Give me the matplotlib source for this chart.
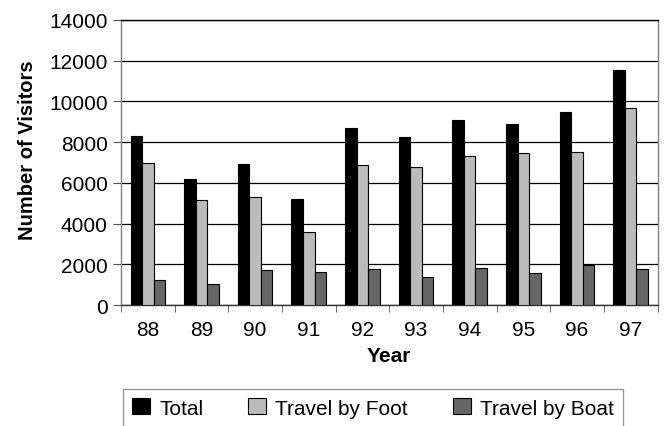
import numpy as np
import matplotlib
matplotlib.use("Agg")
import matplotlib.pyplot as plt
from matplotlib.ticker import FixedLocator

years = ["88", "89", "90", "91", "92", "93", "94", "95", "96", "97"]
total = [8300, 6200, 6950, 5200, 8700, 8250, 9100, 8900, 9500, 11550]
foot = [7000, 5150, 5300, 3600, 6900, 6800, 7300, 7450, 7500, 9700]
boat = [1250, 1050, 1700, 1600, 1770, 1400, 1800, 1550, 1980, 1750]

plt.rcParams["font.family"] = ["Liberation Sans", "DejaVu Sans"]

W, H = 668, 427
fig = plt.figure(figsize=(W / 100, H / 100), dpi=100)
ax = fig.add_axes([121 / W, 1 - 306 / H, 536.5 / W, 285 / H])

x = np.arange(len(years))
bw = 0.215
series = [(total, "#000000", "Total"),
          (foot, "#BBBBBB", "Travel by Foot"),
          (boat, "#666666", "Travel by Boat")]
for i, (vals, col, lab) in enumerate(series):
    ax.bar(x + (i - 1) * bw, vals, bw, color=col, edgecolor="black",
           linewidth=0.8, label=lab, zorder=3)

ax.set_xlim(-0.5, len(years) - 0.5)
ax.set_ylim(0, 14000)
ax.set_yticks(range(0, 14001, 2000))
ax.yaxis.grid(True, color="black", linewidth=0.9, zorder=0)
ax.set_axisbelow(True)

ax.set_xticks(x)
ax.set_xticklabels(years, fontsize=15)
ax.tick_params(axis="x", which="major", length=0, pad=11)
ax.xaxis.set_minor_locator(FixedLocator(np.arange(-0.5, len(years), 1.0)))
ax.tick_params(axis="x", which="minor", length=5, color="#555555", direction="out")
ax.tick_params(axis="y", labelsize=15, length=6, color="#555555", pad=3.5)

for s in ["left", "right"]:
    ax.spines[s].set_color("#808080")
ax.spines["bottom"].set_color("#333333")
ax.spines["top"].set_color("black")
for s in ax.spines.values():
    s.set_linewidth(1.0)

ax.set_ylabel("Number of Visitors", fontsize=14.5, fontweight="bold")
ax.set_xlabel("Year", fontsize=15, fontweight="bold")
ax.yaxis.set_label_coords((37 - 121) / 536.5, (306 - 150) / 285)
ax.xaxis.set_label_coords(0.5, (306 - 347) / 285)

leg = fig.legend(loc="upper left", bbox_to_anchor=(123 / W, 1 - 390 / H),
                 ncol=3, fontsize=15, frameon=True, fancybox=False,
                 edgecolor="#808080", handlelength=0.85, handleheight=0.8,
                 handletextpad=0.45, columnspacing=2.15, borderpad=0.45,
                 borderaxespad=0)
leg.get_frame().set_linewidth(1.0)

fig.savefig("out.png", dpi=100)
